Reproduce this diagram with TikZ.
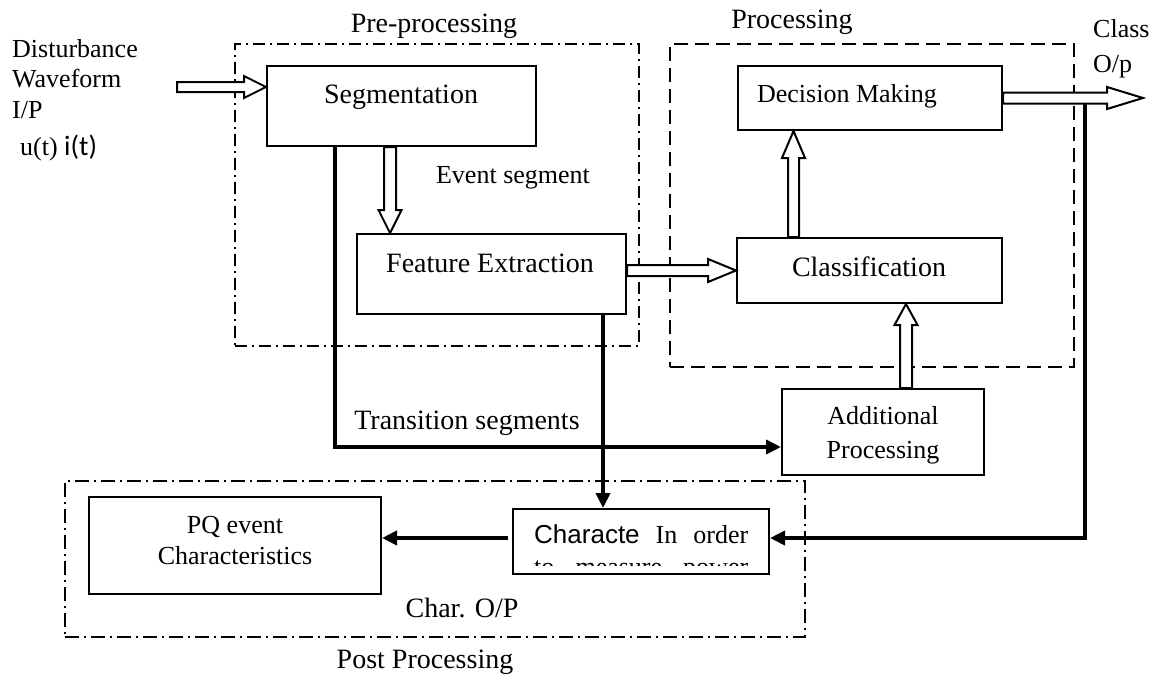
\documentclass[tikz,border=0pt]{standalone}
\usepackage{fontspec}
\setmainfont{Liberation Serif}
\newfontfamily\arialfont{Liberation Sans}
\newfontfamily\calfont{Carlito}
\usetikzlibrary{calc,arrows.meta}

% hollow block arrows: #1 start, #2 tip, #3 shaft half-width, #4 head half-width, #5 head length
\newcommand\hollowright[5]{%
  \draw[hollow] let \p1=(#1), \p2=(#2) in
    (\x1,\y2+#3pt) -- (\x2-#5pt,\y2+#3pt) -- (\x2-#5pt,\y2+#4pt) -- (\p2)
    -- (\x2-#5pt,\y2-#4pt) -- (\x2-#5pt,\y2-#3pt) -- (\x1,\y2-#3pt) -- cycle;}
\newcommand\hollowdown[5]{%
  \draw[hollow] let \p1=(#1), \p2=(#2) in
    (\x2-#3pt,\y1) -- (\x2-#3pt,\y2+#5pt) -- (\x2-#4pt,\y2+#5pt) -- (\p2)
    -- (\x2+#4pt,\y2+#5pt) -- (\x2+#3pt,\y2+#5pt) -- (\x2+#3pt,\y1) -- cycle;}
\newcommand\hollowup[5]{%
  \draw[hollow] let \p1=(#1), \p2=(#2) in
    (\x2-#3pt,\y1) -- (\x2-#3pt,\y2-#5pt) -- (\x2-#4pt,\y2-#5pt) -- (\p2)
    -- (\x2+#4pt,\y2-#5pt) -- (\x2+#3pt,\y2-#5pt) -- (\x2+#3pt,\y1) -- cycle;}

\begin{document}
\begin{tikzpicture}[
  x=1pt, y=-1pt,
  box/.style={draw, line width=2pt, inner sep=0pt, fill=white},
  hollow/.style={draw, line width=2pt, fill=white, line join=miter},
  flow/.style={line width=4pt, line join=miter, -{Triangle[length=15pt,width=14pt]}},
  grpdd/.style={draw, line width=2pt, inner sep=0pt, dash pattern=on 12pt off 5pt on 2pt off 5pt},
  grpd/.style={draw, line width=2pt, inner sep=0pt, dash pattern=on 14pt off 7pt},
  lbl/.style={inner sep=0pt, anchor=base, font=\fontsize{26}{31}\selectfont},
  lblw/.style={inner sep=0pt, anchor=base west, font=\fontsize{26}{31}\selectfont},
  lbll/.style={inner sep=0pt, anchor=base, font=\fontsize{28}{33}\selectfont},
]
\useasboundingbox (0,0) rectangle (1155,675);

% group frames
\node[grpdd, minimum width=404pt, minimum height=302pt] (pre)  at (437,195) {};
\node[grpd,  minimum width=404pt, minimum height=323pt] (proc) at (872,205.5) {};
\node[grpdd, dash pattern=on 14pt off 5pt on 2pt off 5pt,
      minimum width=740pt, minimum height=156pt] (post) at (435,559) {};

% blocks
\node[box, minimum width=269pt, minimum height=80pt] (seg) at (401.5,106) {};
\node[box, minimum width=264pt, minimum height=64pt] (dec) at (870,98) {};
\node[box, minimum width=269pt, minimum height=80pt] (fe)  at (491.5,274) {};
\node[box, minimum width=265pt, minimum height=65pt] (cls) at (869.5,270.5) {};
\node[box, minimum width=202pt, minimum height=86pt] (add) at (883,432) {};
\node[box, minimum width=292pt, minimum height=97pt] (pq)  at (235,545.5) {};
\node[box, minimum width=256pt, minimum height=65pt] (chr) at (641,541.5) {};

% block texts
\node[lbll] (segt) at (401,103) {Segmentation};
\node[lbl]  (dect) at (847,102) {Decision Making};
\node[lbll] (fet)  at (490,272) {Feature Extraction};
\node[lbll] (clst) at (869,276) {Classification};
\node[lbl]  (addt1) at (883,424) {Additional};
\node[lbl]  (addt2) at (883,458) {Processing};
\node[lbl]  (pqt1) at (235,533) {PQ event};
\node[lbl]  (pqt2) at (235,564) {Characteristics};
\begin{scope}
  \clip (515,511) rectangle (767,565);
  \node[lblw] (chrt1) at (534,543) {\hbox to 214pt{{\arialfont Characte}\hfill In\hfill order}};
  \node[lblw] (chrt2) at (534,575) {\hbox to 214pt{to\hfill measure\hfill power}};
\end{scope}

% free labels
\node[lbll] (pret)  at (434,32) {Pre-processing};
\node[lbll] (proct) at (792,28) {Processing};
\node[lbll] (postt) at (425,668) {Post Processing};
\node[lbll] (chart) at (462,617) {Char. O/P};
\node[lbl]  (evt)   at (513,183) {Event segment};
\node[lbll] (trt)   at (467,429) {Transition segments};
\node[lblw] (in1) at (12,57)  {Disturbance};
\node[lblw] (in2) at (12,87)  {Waveform};
\node[lblw] (in3) at (12,118) {I/P};
\node[lblw] (in4) at (20,155) {u(t) {\calfont\fontsize{28}{31}\selectfont i(t)}};
\node[lblw] (cl1) at (1093,37) {Class};
\node[lblw] (cl2) at (1093,72) {O/p};

% helper points
\coordinate (inp)  at (177,87);
\coordinate (a1)   at (390,0);
\coordinate (a2)   at (793.5,0);
\coordinate (a3)   at (906,0);
\coordinate (oend) at (1143,98);
\coordinate (t1)   at (335,447);
\coordinate (t2)   at (603,0);
\coordinate (cout) at (1085,103);
\coordinate (t3)   at (1085,538);

% thick signal lines
\draw[flow] (seg.south -| t1) -- (t1) -- (t1 -| add.west);
\draw[flow] (fe.south -| t2) -- (chr.north -| t2);
\draw[flow] (cout) -- (t3) -- (t3 -| chr.east);
\draw[flow] ([xshift=-4pt]chr.west |- t3) -- (pq.east |- t3);

% hollow data-flow arrows
\hollowright{inp}{seg.west |- inp}{5}{11}{22}
\hollowdown{seg.south}{fe.north -| a1}{6}{11.5}{23}
\hollowright{fe.east}{cls.west}{5.5}{11.5}{28}
\hollowup{cls.north}{dec.south -| a2}{5.5}{11.5}{27}
\hollowup{add.north}{cls.south -| a3}{6}{11.5}{21}
\hollowright{dec.east}{oend}{5.5}{11}{36}
\end{tikzpicture}
\end{document}
